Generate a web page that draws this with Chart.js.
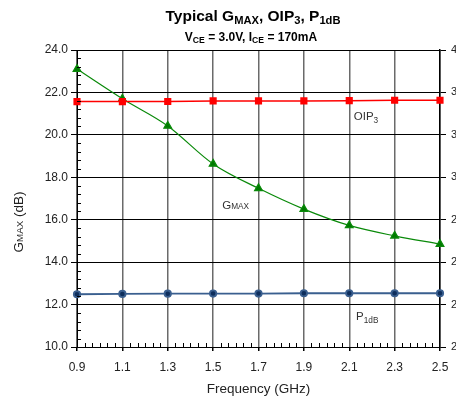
<!DOCTYPE html>
<html>
<head>
<meta charset="utf-8">
<script src="https://cdn.jsdelivr.net/npm/chart.js@4"></script>
<style>
  html, body { margin: 0; padding: 0; background: #fff; overflow: hidden; }
  #wrap { width: 464px; height: 400px; }
</style>
</head>
<body>
<div id="wrap"><canvas id="gainChart"></canvas></div>
<script>
// données
const freqLabels = ['0.9', '1.1', '1.3', '1.5', '1.7', '1.9', '2.1', '2.3', '2.5'];
const gmax = [23.1, 21.7, 20.42, 18.63, 17.48, 16.5, 15.73, 15.24, 14.85];
const oip3 = [37.35, 37.35, 37.36, 37.4, 37.4, 37.4, 37.42, 37.45, 37.45];
const p1db = [23.73, 23.75, 23.77, 23.78, 23.78, 23.8, 23.8, 23.8, 23.8];
const leftTicks = [10, 12, 14, 16, 18, 20, 22, 24];
const rightTicks = [20, 23, 26, 29, 32, 35, 38, 41];

const FONT = '"Liberation Sans", Arial, sans-serif';

// texte avec indices (G_MAX, OIP_3 ...)
function drawRich(ctx, parts, x, y, size, bold, align) {
    const w = bold ? 'bold ' : '';
    let total = 0;
    parts.forEach(p => {
        const fs = p.sub ? size * 0.72 : size;
        ctx.font = w + fs + 'px ' + FONT;
        p.w = ctx.measureText(p.t).width;
        total += p.w;
    });
    let cx = align === 'center' ? x - total / 2 : x;
    ctx.textAlign = 'left';
    ctx.textBaseline = 'alphabetic';
    parts.forEach(p => {
        const fs = p.sub ? size * 0.72 : size;
        ctx.font = w + fs + 'px ' + FONT;
        ctx.fillText(p.t, cx, y + (p.sub ? (p.drop !== undefined ? p.drop : size * 0.22) : 0));
        cx += p.w;
    });
}

const decorPlugin = {
    id: 'decor',
    afterDraw(chart) {
        const ctx = chart.ctx;
        const xs = chart.scales.x, ys = chart.scales.y;
        const area = chart.chartArea;
        ctx.save();

        // petites graduations
        ctx.strokeStyle = '#000';
        ctx.lineWidth = 1;
        ctx.beginPath();
        for (let i = 0; i < freqLabels.length - 1; i++) {
            const a = xs.getPixelForTick(i), b = xs.getPixelForTick(i + 1);
            for (let k = 1; k < 6; k++) {
                const px = Math.round(a + (b - a) * k / 6) + 0.5;
                ctx.moveTo(px, area.bottom);
                ctx.lineTo(px, area.bottom - 4);
            }
        }
        for (let v = 10.4; v < 24; v += 0.4) {
            if (Math.abs(v / 2 - Math.round(v / 2)) < 0.01) continue;
            const py = Math.round(ys.getPixelForValue(v)) + 0.5;
            ctx.moveTo(area.left, py);
            ctx.lineTo(area.left + 4, py);
        }
        ctx.stroke();

        // titres
        ctx.fillStyle = '#000';
        drawRich(ctx, [{t: 'Typical G'}, {t: 'MAX', sub: true}, {t: ', OIP'}, {t: '3', sub: true},
            {t: ', P'}, {t: '1dB', sub: true}], 253, 21, 15.5, true, 'center');
        drawRich(ctx, [{t: 'V'}, {t: 'CE', sub: true, drop: 2}, {t: ' = 3.0V, I'}, {t: 'CE', sub: true, drop: 2},
            {t: ' = 170mA'}], 251, 41, 12, true, 'center');

        // étiquettes des séries
        ctx.fillStyle = '#333';
        drawRich(ctx, [{t: 'OIP'}, {t: '3', sub: true}], xs.getPixelForValue(6.1), ys.getPixelForValue(20.7), 11.5, false, 'left');
        drawRich(ctx, [{t: 'G'}, {t: 'MAX', sub: true, drop: 0}], xs.getPixelForValue(3.2), ys.getPixelForValue(16.5), 11.5, false, 'left');
        drawRich(ctx, [{t: 'P'}, {t: '1dB', sub: true}], xs.getPixelForValue(6.15), ys.getPixelForValue(11.25), 11.5, false, 'left');

        // titre axe Y
        ctx.translate(23, 222);
        ctx.rotate(-Math.PI / 2);
        ctx.fillStyle = '#222';
        drawRich(ctx, [{t: 'G'}, {t: 'MAX', sub: true, drop: 0}, {t: ' (dB)'}], 0, 0, 13.5, false, 'center');
        ctx.restore();
    }
};

new Chart(document.getElementById('gainChart'), {
    type: 'line',
    data: {
        labels: freqLabels,
        datasets: [{
            label: 'OIP3',
            data: oip3,
            yAxisID: 'y2',
            borderColor: '#ff0000',
            backgroundColor: '#ff0000',
            borderWidth: 1.5,
            pointStyle: 'rect',
            pointRadius: 4,
            tension: 0
        }, {
            label: 'GMAX',
            data: gmax,
            yAxisID: 'y',
            borderColor: '#0a8a0a',
            backgroundColor: '#007a00',
            borderWidth: 1.2,
            pointStyle: 'triangle',
            pointRadius: 4.5,
            tension: 0.35,
            cubicInterpolationMode: 'monotone'
        }, {
            label: 'P1dB',
            data: p1db,
            yAxisID: 'y2',
            borderColor: '#3a5f8f',
            backgroundColor: '#0e2e5c',
            borderWidth: 1.8,
            pointStyle: 'circle',
            pointRadius: 3.2,
            tension: 0
        }]
    },
    options: {
        responsive: true,
        maintainAspectRatio: false,
        animation: false,
        layout: { padding: { top: 50, left: 40, right: 0, bottom: 0 } },
        plugins: { legend: { display: false }, tooltip: { enabled: false } },
        scales: {
            x: {
                type: 'category',
                offset: false,
                grid: { color: '#6a6a6a', lineWidth: 1.5, tickLength: 4, tickColor: '#000' },
                border: { color: '#000', width: 1 },
                ticks: { color: '#222', font: { family: FONT, size: 12 }, padding: 9, maxRotation: 0 },
                title: { display: true, text: 'Frequency (GHz)', color: '#222',
                    font: { family: FONT, size: 13.5 }, padding: { top: 2, bottom: 3 } },
                afterFit(s) { s.height = 53; }
            },
            y: {
                position: 'left',
                min: 10, max: 24,
                afterBuildTicks(s) { s.ticks = leftTicks.map(v => ({ value: v })); },
                grid: { color: '#000', lineWidth: 1, tickLength: 6, tickColor: '#000' },
                border: { color: '#000', width: 1 },
                ticks: { color: '#222', font: { family: FONT, size: 11 }, padding: 3,
                    callback: v => Number(v).toFixed(1), font: { family: FONT, size: 12 } },
                afterFit(s) { s.width = 37; }
            },
            y2: {
                position: 'right',
                min: 20, max: 41,
                afterBuildTicks(s) { s.ticks = rightTicks.map(v => ({ value: v })); },
                grid: { drawOnChartArea: false, tickLength: 6, tickColor: '#000' },
                border: { color: '#000', width: 1.5 },
                ticks: { color: '#222', font: { family: FONT, size: 11 }, padding: 5,
                    callback: v => String(v) },
                afterFit(s) { s.width = 24; }
            }
        }
    },
    plugins: [decorPlugin]
});
</script>
</body>
</html>
